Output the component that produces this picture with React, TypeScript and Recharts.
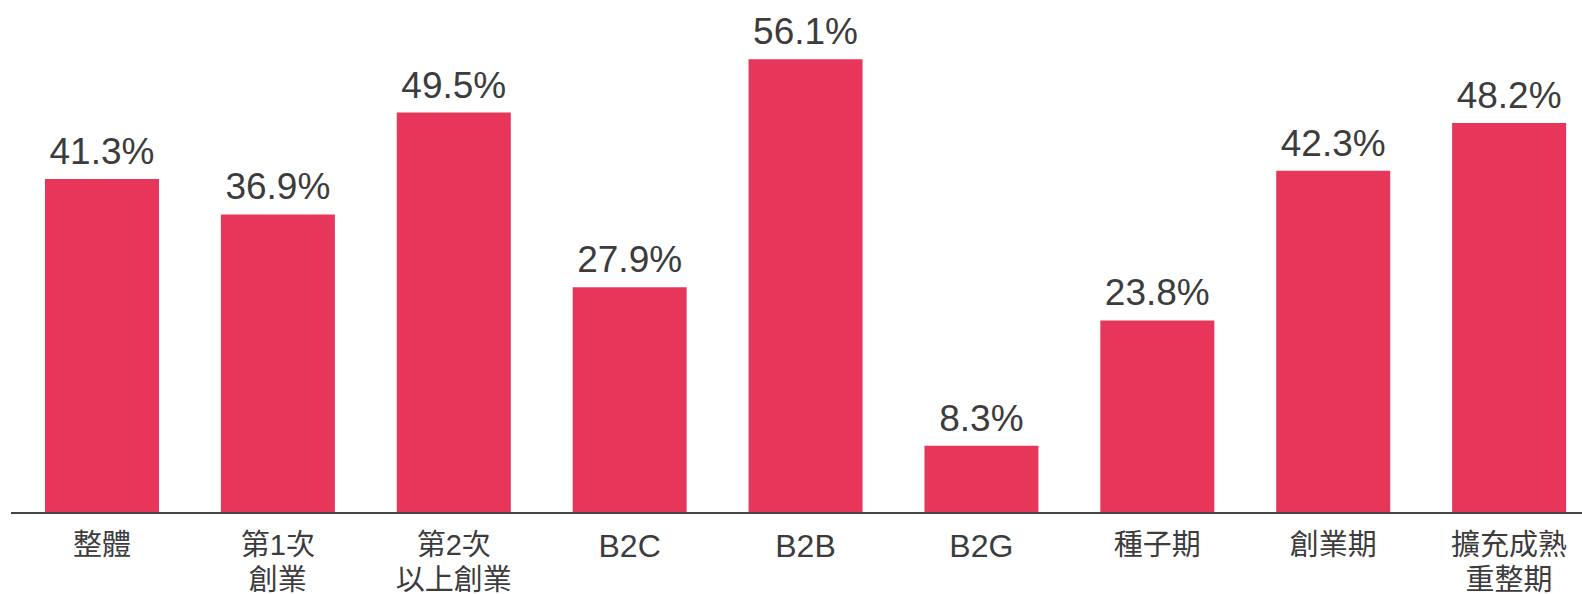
import { BarChart, Bar, XAxis, YAxis, LabelList } from 'recharts';

const categories = ['整體', '第1次\n創業', '第2次\n以上創業', 'B2C', 'B2B', 'B2G', '種子期', '創業期', '擴充成熟\n重整期'];
const shares = [41.3, 36.9, 49.5, 27.9, 56.1, 8.3, 23.8, 42.3, 48.2];

const data = categories.map((name, i) => ({ name, value: shares[i] }));

const FONT = '"Liberation Sans", Arial, "Noto Sans CJK TC", sans-serif';

function CategoryTick({ x, y, payload }: any) {
  const lines = String(payload.value).split('\n');
  // latin-only labels look a touch bigger in the original
  const latin = /^[\x00-\x7f\n]+$/.test(String(payload.value));
  return (
    <text x={x} y={y} textAnchor="middle" fill="#3c3c3c" fontSize={latin ? 32 : 29} fontFamily={FONT}>
      {lines.map((line, i) => (
        <tspan key={i} x={x} dy={i === 0 ? (latin ? 43.5 : 41.5) : 35.5}>
          {line}
        </tspan>
      ))}
    </text>
  );
}

export default function App() {
  return (
    <div style={{ position: 'absolute', left: 0, top: 0, width: 1582, height: 594, overflow: 'hidden', background: '#fff' }}>
      <BarChart
        width={1600}
        height={594}
        data={data}
        margin={{ top: 27.6, right: 3, bottom: 0, left: 11 }}
      >
        <XAxis
          dataKey="name"
          height={81}
          padding={{ left: 3, right: 0 }}
          tickLine={false}
          tickSize={0}
          tickMargin={0}
          interval={0}
          axisLine={{ stroke: '#454545', strokeWidth: 2 }}
          tick={<CategoryTick />}
        />
        <YAxis hide domain={[0, 60]} />
        <Bar dataKey="value" fill="#e8365a" barSize={114} isAnimationActive={false}>
          <LabelList
            dataKey="value"
            position="top"
            offset={15}
            formatter={(v: any) => `${Number(v).toFixed(1)}%`}
            fill="#3c3c3c"
            fontSize={37}
            fontFamily={FONT}
          />
        </Bar>
      </BarChart>
    </div>
  );
}
